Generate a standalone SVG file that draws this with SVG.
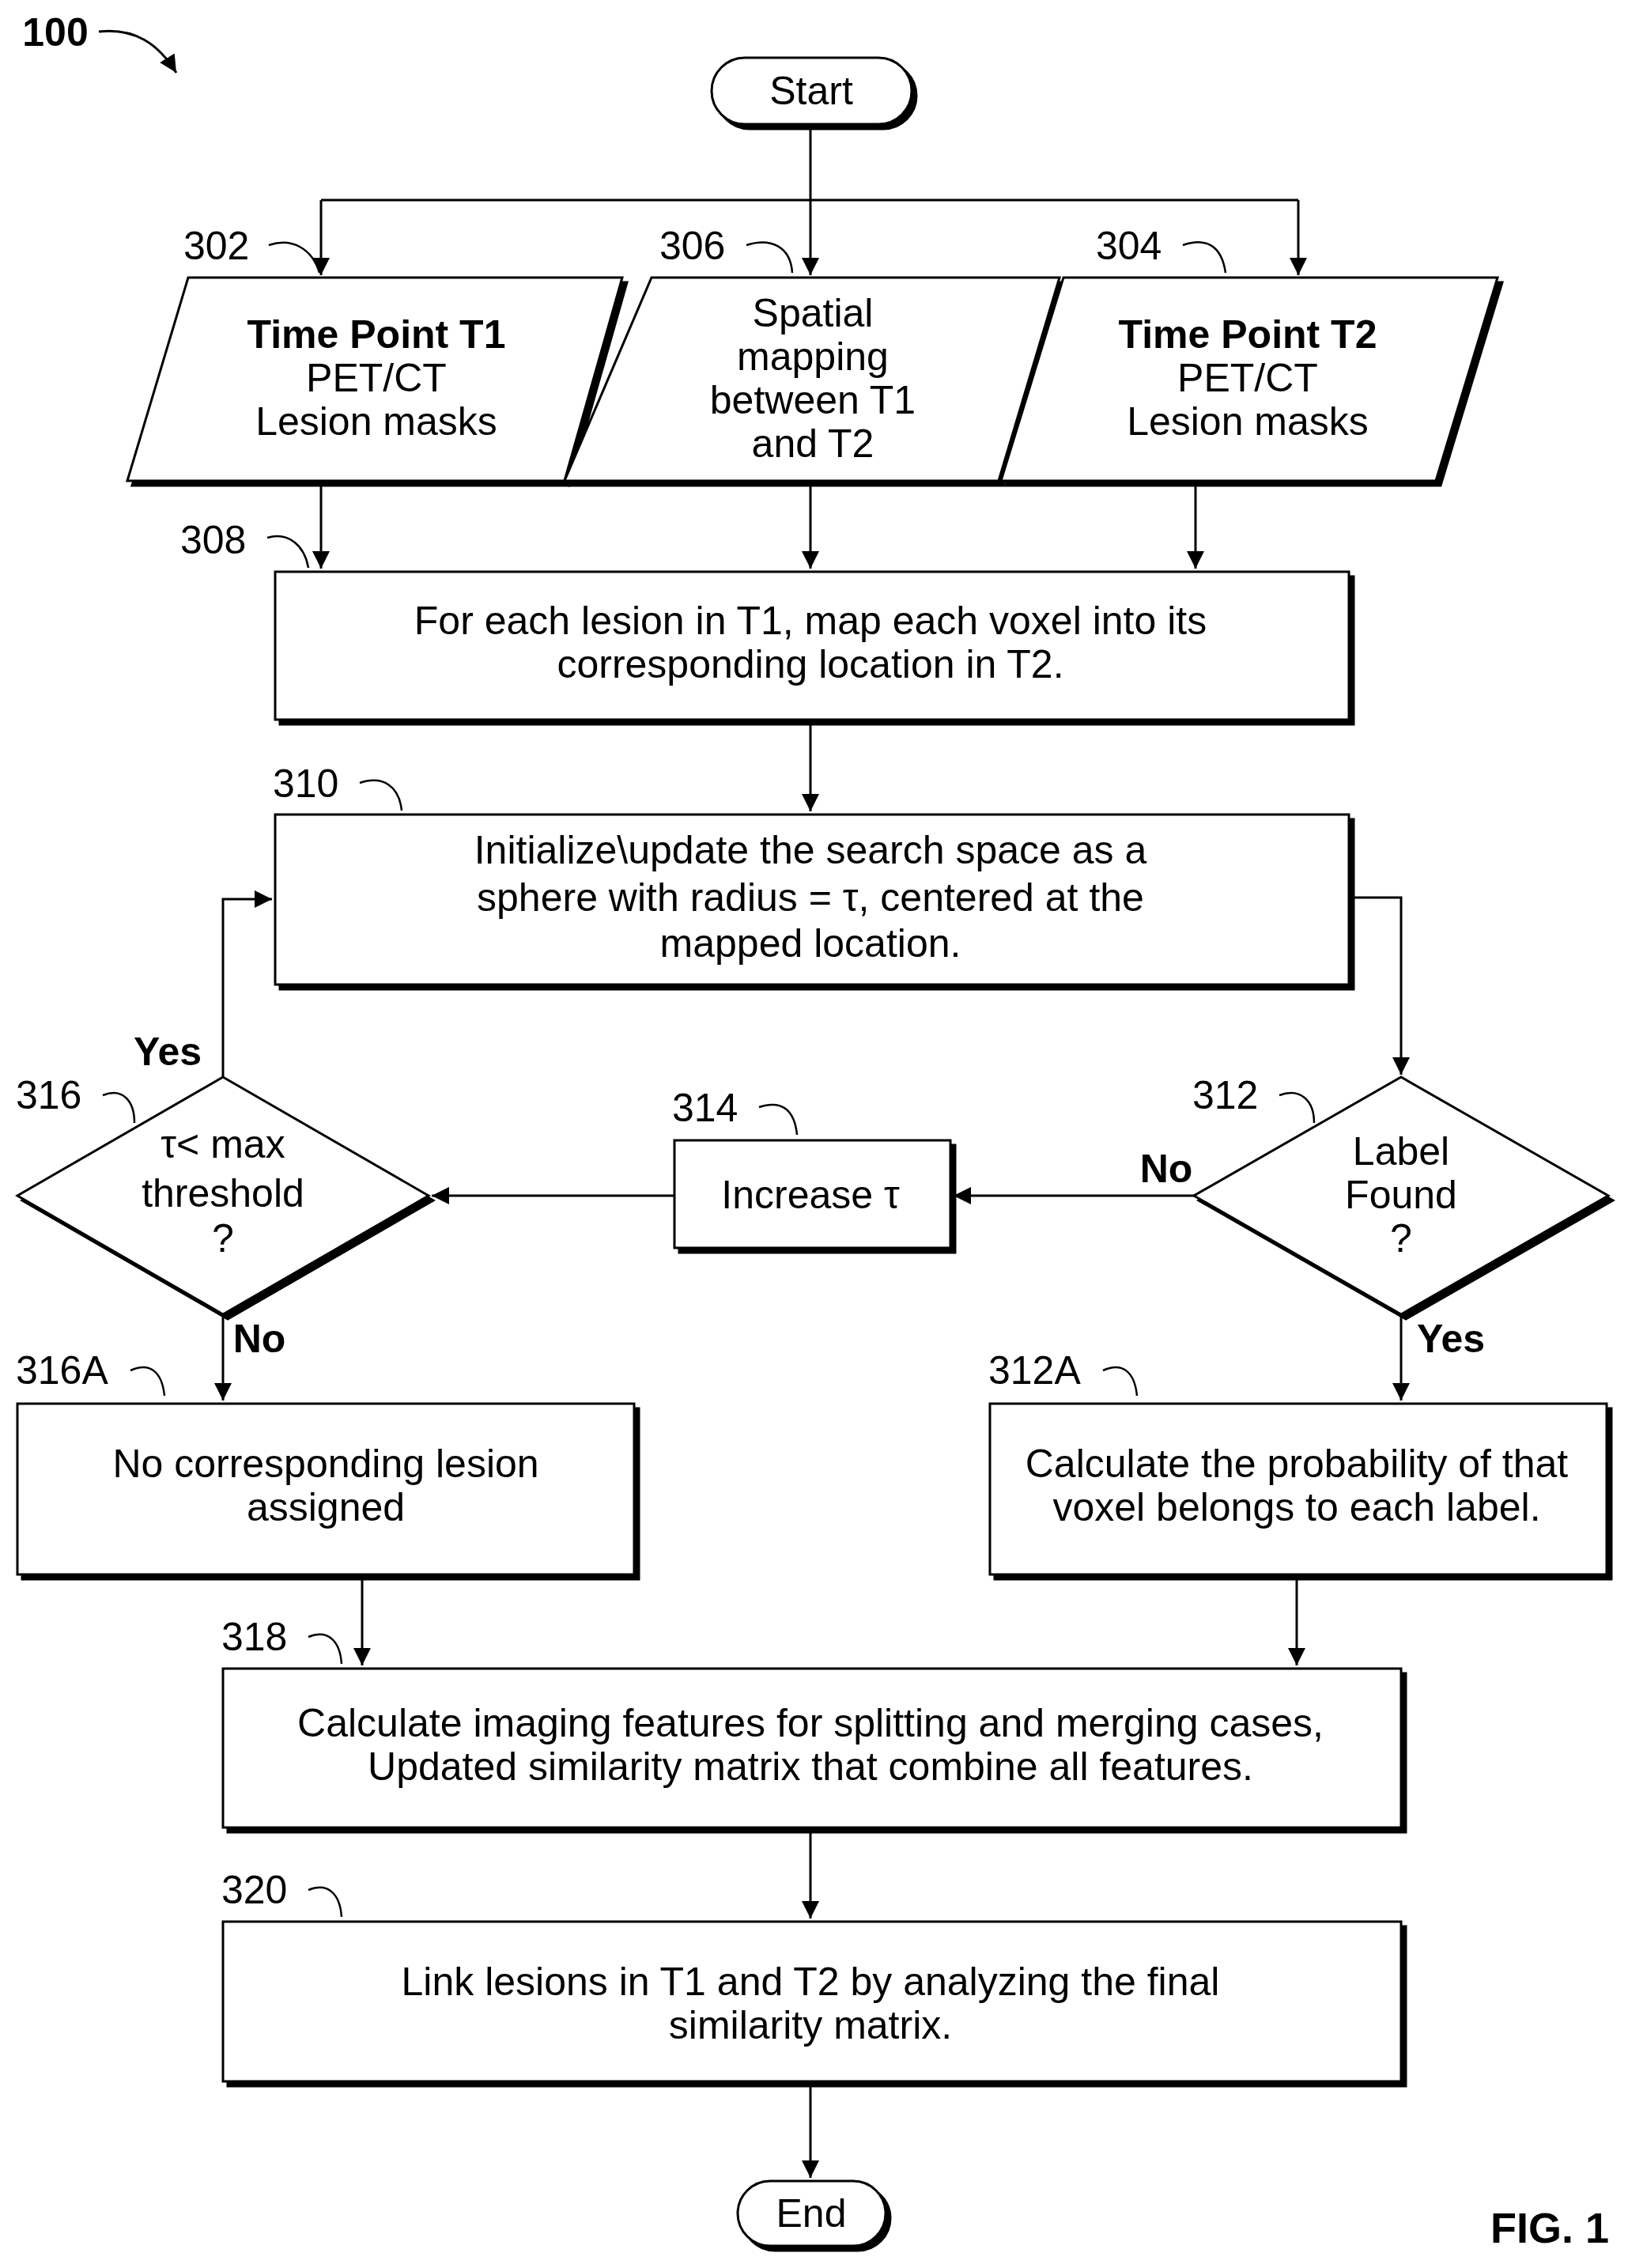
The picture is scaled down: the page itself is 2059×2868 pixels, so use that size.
<svg xmlns="http://www.w3.org/2000/svg" width="2059" height="2868" viewBox="0 0 2059 2868">
<style>
text{font-family:"Liberation Sans",Arial,sans-serif;font-size:50px;fill:#000;text-anchor:middle}
.b{font-weight:bold}
.lbl{text-anchor:start}
.sh{fill:#000;stroke:#000;stroke-width:3}
.nd{fill:#fff;stroke:#000;stroke-width:3}
.ln{fill:none;stroke:#000;stroke-width:3}
.cu{fill:none;stroke:#000;stroke-width:2.5}
</style>
<defs>
<marker id="ar" viewBox="0 0 10 10" refX="10" refY="5" markerWidth="9" markerHeight="9" markerUnits="userSpaceOnUse" orient="auto">
<path d="M0,0 L10,5 L0,10 z" fill="#000"/>
</marker>
<marker id="ar2" viewBox="0 0 10 10" refX="10" refY="5" markerWidth="22" markerHeight="22" markerUnits="userSpaceOnUse" orient="auto">
<path d="M0,0 L10,5 L0,10 z" fill="#000"/>
</marker>
</defs>
<g id="connectors">
<path class="ln" d="M1025,157 V253 M406,253 H1642" />
<path class="ln" marker-end="url(#ar2)" d="M406,253 V348"/>
<path class="ln" marker-end="url(#ar2)" d="M1025,253 V348"/>
<path class="ln" marker-end="url(#ar2)" d="M1642,253 V348"/>
<path class="ln" marker-end="url(#ar2)" d="M406,613 V719"/>
<path class="ln" marker-end="url(#ar2)" d="M1025,613 V719"/>
<path class="ln" marker-end="url(#ar2)" d="M1512,613 V719"/>
<path class="ln" marker-end="url(#ar2)" d="M1025,916 V1026"/>
<path class="ln" marker-end="url(#ar2)" d="M1712,1135 H1772 V1359"/>
<path class="ln" marker-end="url(#ar2)" d="M1510,1512 H1206"/>
<path class="ln" marker-end="url(#ar2)" d="M853,1512 H546"/>
<path class="ln" marker-end="url(#ar2)" d="M282,1362 V1137 H344"/>
<path class="ln" marker-end="url(#ar2)" d="M282,1662 V1771"/>
<path class="ln" marker-end="url(#ar2)" d="M1772,1662 V1771"/>
<path class="ln" marker-end="url(#ar2)" d="M458,1997 V2106"/>
<path class="ln" marker-end="url(#ar2)" d="M1640,1997 V2106"/>
<path class="ln" marker-end="url(#ar2)" d="M1025,2317 V2426"/>
<path class="ln" marker-end="url(#ar2)" d="M1025,2638 V2754"/>
<path class="ln" marker-end="url(#ar2)" d="M125,40 C170,35 200,55 223,92"/>
</g>
<text class="b" x="70" y="58">100</text>
<g id="start">
<rect class="sh" x="906" y="79" width="253" height="84" rx="42"/>
<rect class="nd" x="900" y="73" width="253" height="84" rx="42"/>
<text x="1026" y="132">Start</text>
</g>
<g id="n302">
<polygon class="sh" points="244,357 793,357 720,614 167,614"/>
<polygon class="nd" points="238,351 787,351 714,608 161,608"/>
<text class="b" x="476" y="440">Time Point T1</text>
<text x="476" y="495">PET/CT</text>
<text x="476" y="550">Lesion masks</text>
<text class="lbl" x="232" y="328">302</text>
<path class="cu" d="M340,310 C370,300 395,315 404,345"/>
</g>
<g id="n306">
<polygon class="sh" points="830,357 1346,357 1269,614 720,614"/>
<polygon class="nd" points="824,351 1340,351 1263,608 714,608"/>
<text x="1028" y="413">Spatial</text>
<text x="1028" y="468">mapping</text>
<text x="1028" y="523">between T1</text>
<text x="1028" y="578">and T2</text>
<text class="lbl" x="834" y="328">306</text>
<path class="cu" d="M944,310 C975,300 1000,312 1002,345"/>
</g>
<g id="n304">
<polygon class="sh" points="1351,357 1900,357 1822,614 1272,614"/>
<polygon class="nd" points="1345,351 1894,351 1816,608 1266,608"/>
<text class="b" x="1578" y="440">Time Point T2</text>
<text x="1578" y="495">PET/CT</text>
<text x="1578" y="550">Lesion masks</text>
<text class="lbl" x="1386" y="328">304</text>
<path class="cu" d="M1496,310 C1525,300 1545,310 1550,345"/>
</g>
<g id="n308">
<rect class="sh" x="354" y="729" width="1358" height="187"/>
<rect class="nd" x="348" y="723" width="1358" height="187"/>
<text x="1025" y="802">For each lesion in T1, map each voxel into its</text>
<text x="1025" y="857">corresponding location in T2.</text>
<text class="lbl" x="228" y="700">308</text>
<path class="cu" d="M338,680 C365,672 385,690 390,718"/>
</g>
<g id="n310">
<rect class="sh" x="354" y="1036" width="1358" height="215"/>
<rect class="nd" x="348" y="1030" width="1358" height="215"/>
<text x="1025" y="1092">Initialize\update the search space as a</text>
<text x="1025" y="1152">sphere with radius = τ, centered at the</text>
<text x="1025" y="1210">mapped location.</text>
<text class="lbl" x="345" y="1008">310</text>
<path class="cu" d="M455,990 C485,980 505,995 508,1025"/>
</g>
<g id="n312">
<polygon class="sh" points="1778,1368 2040,1518 1778,1668 1516,1518"/>
<polygon class="nd" points="1772,1362 2034,1512 1772,1662 1510,1512"/>
<text x="1772" y="1473">Label</text>
<text x="1772" y="1528">Found</text>
<text x="1772" y="1583">?</text>
<text class="lbl" x="1508" y="1402">312</text>
<path class="cu" d="M1618,1385 C1645,1375 1662,1392 1662,1420"/>
<text class="b" x="1475" y="1495">No</text>
<text class="b" x="1835" y="1710">Yes</text>
</g>
<g id="n314">
<rect class="sh" x="859" y="1448" width="349" height="136"/>
<rect class="nd" x="853" y="1442" width="349" height="136"/>
<text x="1025" y="1528">Increase τ</text>
<text class="lbl" x="850" y="1418">314</text>
<path class="cu" d="M960,1400 C990,1390 1005,1405 1008,1435"/>
</g>
<g id="n316">
<polygon class="sh" points="288,1368 548,1518 288,1668 28,1518"/>
<polygon class="nd" points="282,1362 542,1512 282,1662 22,1512"/>
<text x="282" y="1464">τ&lt; max</text>
<text x="282" y="1526">threshold</text>
<text x="282" y="1583">?</text>
<text class="lbl" x="20" y="1402">316</text>
<path class="cu" d="M130,1385 C155,1375 170,1392 170,1420"/>
<text class="b" x="212" y="1347">Yes</text>
<text class="b" x="328" y="1710">No</text>
</g>
<g id="n316A">
<rect class="sh" x="28" y="1781" width="780" height="216"/>
<rect class="nd" x="22" y="1775" width="780" height="216"/>
<text x="412" y="1868">No corresponding lesion</text>
<text x="412" y="1923">assigned</text>
<text class="lbl" x="20" y="1750">316A</text>
<path class="cu" d="M165,1733 C190,1722 205,1735 208,1765"/>
</g>
<g id="n312A">
<rect class="sh" x="1258" y="1781" width="780" height="216"/>
<rect class="nd" x="1252" y="1775" width="780" height="216"/>
<text x="1640" y="1868">Calculate the probability of that</text>
<text x="1640" y="1923">voxel belongs to each label.</text>
<text class="lbl" x="1250" y="1750">312A</text>
<path class="cu" d="M1395,1733 C1420,1722 1435,1735 1438,1765"/>
</g>
<g id="n318">
<rect class="sh" x="288" y="2116" width="1490" height="201"/>
<rect class="nd" x="282" y="2110" width="1490" height="201"/>
<text x="1025" y="2196">Calculate imaging features for splitting and merging cases,</text>
<text x="1025" y="2251">Updated similarity matrix that combine all features.</text>
<text class="lbl" x="280" y="2087">318</text>
<path class="cu" d="M390,2070 C415,2060 430,2075 432,2104"/>
</g>
<g id="n320">
<rect class="sh" x="288" y="2436" width="1490" height="202"/>
<rect class="nd" x="282" y="2430" width="1490" height="202"/>
<text x="1025" y="2523">Link lesions in T1 and T2 by analyzing the final</text>
<text x="1025" y="2578">similarity matrix.</text>
<text class="lbl" x="280" y="2407">320</text>
<path class="cu" d="M390,2390 C415,2380 430,2395 432,2424"/>
</g>
<g id="end">
<rect class="sh" x="939" y="2764" width="187" height="82" rx="41"/>
<rect class="nd" x="933" y="2758" width="187" height="82" rx="41"/>
<text x="1026" y="2816">End</text>
</g>
<text class="b" x="1960" y="2836" style="font-size:54px">FIG. 1</text>
</svg>
